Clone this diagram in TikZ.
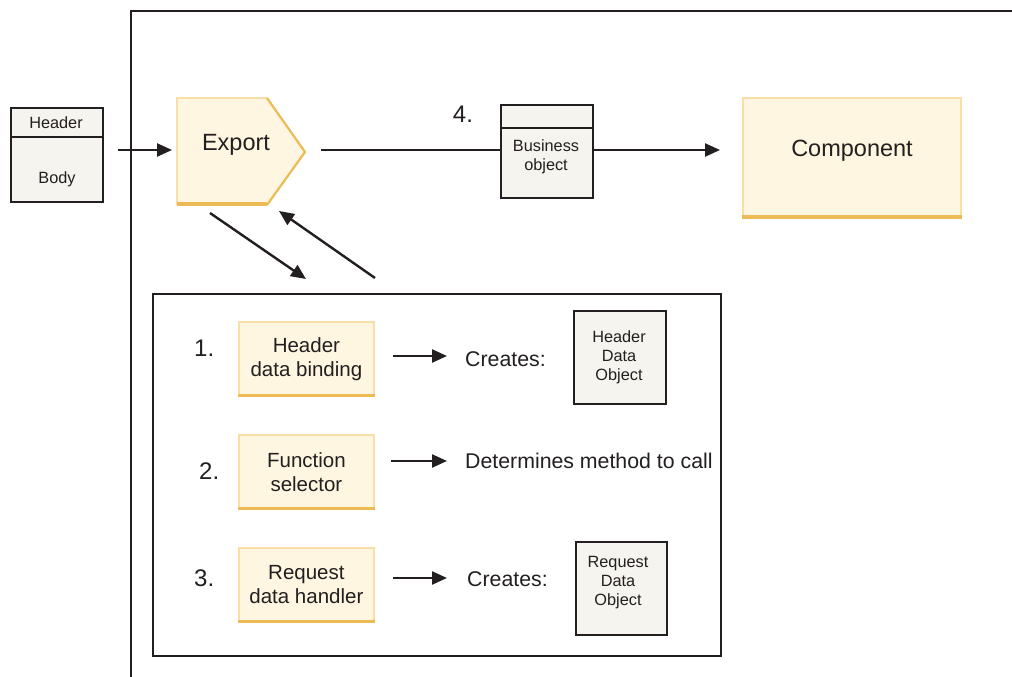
\documentclass[tikz,border=0pt]{standalone}
\usepackage{fontspec}
\setmainfont{Liberation Sans}
\usetikzlibrary{arrows.meta}
\definecolor{yfill}{HTML}{FEF6E0}
\definecolor{yedge}{HTML}{F8DFA6}
\definecolor{yedgeb}{HTML}{EDBB55}
\definecolor{gfill}{HTML}{F6F4EE}
\definecolor{ink}{HTML}{231F20}
\begin{document}
\begin{tikzpicture}[x=1pt,y=-1pt,
  arr/.style={draw=ink,line width=2.4pt,-{Triangle[length=15pt,width=13pt]}},
  plain/.style={draw=ink,line width=2.3pt},
  ybox/.style={fill=yfill,draw=yedge,line width=1.8pt,inner sep=0pt,align=center,text=ink},
  gbox/.style={fill=gfill,draw=ink,line width=2.2pt,inner sep=0pt},
  lbl/.style={inner sep=0pt,align=center,text=ink},
  bigtxt/.style={font=\fontsize{23.5}{28}\selectfont},
  boxtxt/.style={font=\fontsize{20.5}{24}\selectfont},
  midtxt/.style={font=\fontsize{21.3}{25}\selectfont},
  numtxt/.style={font=\fontsize{24}{28}\selectfont},
  smalltxt/.style={font=\fontsize{16.3}{19}\selectfont}]
\useasboundingbox[fill=white] (0,0) rectangle (1012,677);

% outer frame
\coordinate (frameB) at (131,678);
\coordinate (frameC) at (131,11);
\coordinate (frameR) at (1013,11);
\draw[plain] (frameB) -- (frameC) -- (frameR);

% message box
\node[gbox,minimum width=92,minimum height=94,anchor=north west] (msg) at (10,107) {};
\coordinate (msgdivL) at (10,137);
\coordinate (msgdivR) at (102,137);
\draw[draw=ink,line width=2.2pt] (msgdivL) -- (msgdivR);
\node[lbl,smalltxt] (msghead) at (56,123) {Header};
\node[lbl,smalltxt] (msgbody) at (57,179) {Body};

% export shape
\path[fill=yfill] (177,98) -- (267,98) -- (305,152) -- (267,205) -- (177,205) -- cycle;
\draw[yedge,line width=1.8pt] (177,205) -- (177,98) -- (267,98);
\draw[yedgeb,line width=2.2pt] (267,98) -- (305,152) -- (267,205);
\draw[yedgeb,line width=4pt] (177,203.5) -- (267,203.5);
\node[lbl,minimum width=128,minimum height=107,anchor=north west] (export) at (177,98) {};
\node[lbl,bigtxt] (exporttxt) at (236,145) {Export};

% input arrow
\coordinate (inStart) at (118,150);
\coordinate (inEnd) at (172,150);
\draw[arr] (inStart) -- (inEnd);

% business object
\node[gbox,minimum width=92,minimum height=93,anchor=north west] (bo) at (500,104) {};
\coordinate (bodivL) at (500,128);
\coordinate (bodivR) at (592,128);
\draw[draw=ink,line width=2.2pt] (bodivL) -- (bodivR);
\node[lbl,smalltxt] (botxt) at (546,157) {Business\\object};
\node[lbl,numtxt] (four) at (463,114) {4.};

% component
\node[ybox,minimum width=218,minimum height=119,anchor=north west] (comp) at (742,97) {};
\draw[yedgeb,line width=3.5pt] ([yshift=1]comp.south west) -- ([yshift=1]comp.south east);
\node[lbl,bigtxt] (comptxt) at (852,151) {Component};

\coordinate (lineStart) at (321,150);
\draw[plain] (lineStart) -- (lineStart -| bo.west);
\draw[arr] (lineStart -| bo.east) -- (lineStart -| 720,0);

% diagonal arrows
\coordinate (d1s) at (210,213);
\coordinate (d1e) at (306,279);
\coordinate (d2s) at (375,278);
\coordinate (d2e) at (279,211);
\draw[arr] (d1s) -- (d1e);
\draw[arr] (d2s) -- (d2e);

% inner box
\node[draw=ink,line width=2.2pt,minimum width=568,minimum height=362,anchor=north west,inner sep=0pt] (inner) at (152,293) {};

% row 1
\node[lbl,numtxt,anchor=west] (n1) at (194,348) {1.};
\node[ybox,boxtxt,minimum width=135,minimum height=74,anchor=north west] (hdb) at (238,321) {Header\\data binding};
\draw[yedgeb,line width=3pt] ([yshift=1]hdb.south west) -- ([yshift=1]hdb.south east);
\coordinate (a1s) at (393,356);
\coordinate (a1e) at (447,356);
\draw[arr] (a1s) -- (a1e);
\node[lbl,midtxt,anchor=west] (cr1) at (465,359) {Creates:};
\node[gbox,minimum width=92,minimum height=93,anchor=north west] (hdo) at (573,310) {};
\node[lbl,smalltxt] (hdotxt) at (619,357) {Header\\Data\\Object};

% row 2
\node[lbl,numtxt,anchor=west] (n2) at (199,471) {2.};
\node[ybox,boxtxt,minimum width=135,minimum height=74,anchor=north west] (fs) at (238,434) {Function\\selector};
\draw[yedgeb,line width=3pt] ([yshift=1]fs.south west) -- ([yshift=1]fs.south east);
\coordinate (a2s) at (391,461);
\coordinate (a2e) at (447,461);
\draw[arr] (a2s) -- (a2e);
\node[lbl,midtxt,anchor=west] (det) at (465,461) {Determines method to call};

% row 3
\node[lbl,numtxt,anchor=west] (n3) at (194,578) {3.};
\node[ybox,boxtxt,minimum width=135,minimum height=74,anchor=north west] (rdh) at (238,547) {Request\\data handler};
\draw[yedgeb,line width=3pt] ([yshift=1]rdh.south west) -- ([yshift=1]rdh.south east);
\coordinate (a3s) at (393,578);
\coordinate (a3e) at (447,578);
\draw[arr] (a3s) -- (a3e);
\node[lbl,midtxt,anchor=west] (cr3) at (467,579) {Creates:};
\node[gbox,minimum width=91,minimum height=93,anchor=north west] (rdo) at (575,541) {};
\node[lbl,smalltxt] (rdotxt) at (618,583) {Request\\Data\\Object};
\end{tikzpicture}
\end{document}
